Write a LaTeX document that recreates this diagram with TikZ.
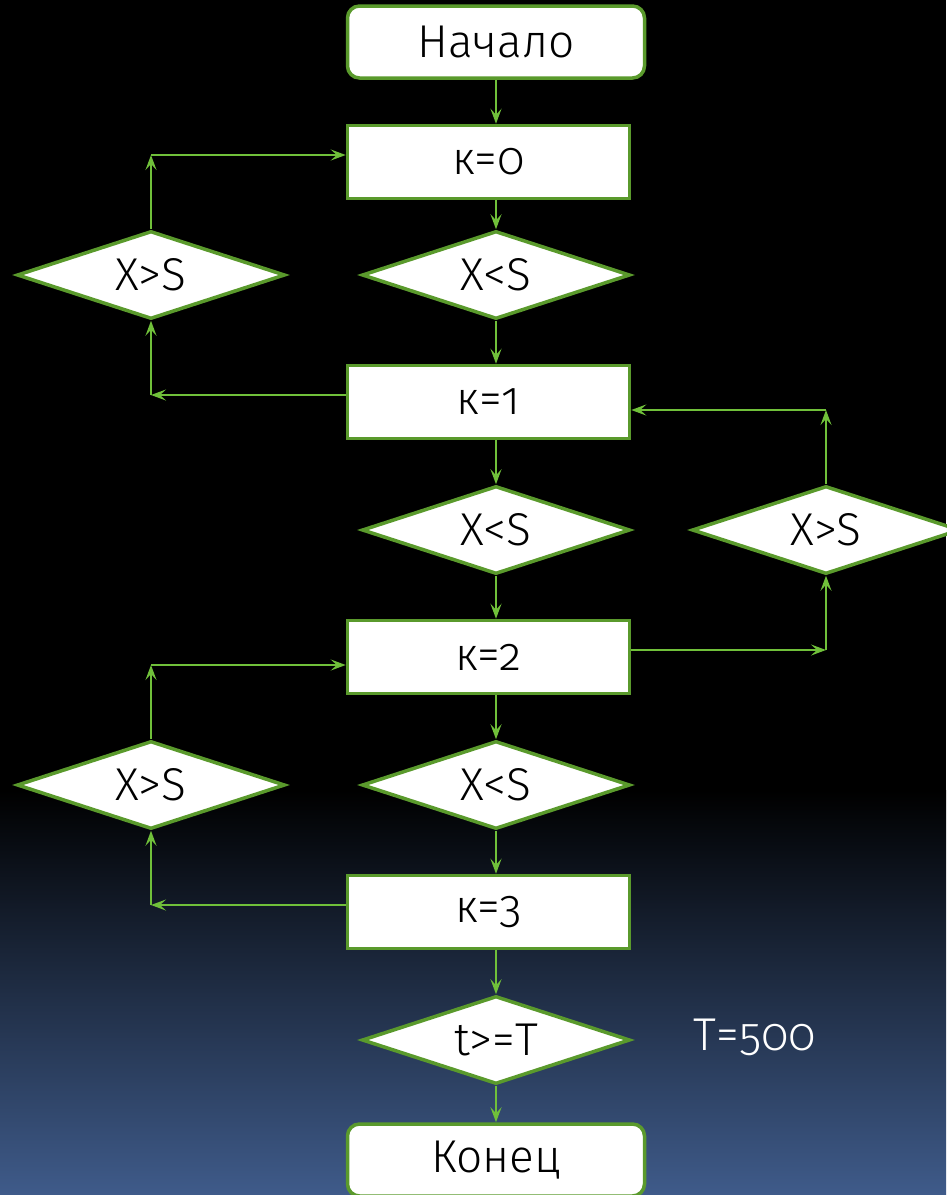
\documentclass[tikz,border=0pt]{standalone}
\usepackage{fontspec}
\setmainfont{Fira Sans Light}[Numbers=OldStyle]
\usetikzlibrary{arrows.meta,shapes.geometric}
\definecolor{edgegreen}{HTML}{5A9A2C}
\definecolor{linkgreen}{HTML}{70C03A}
\definecolor{bgblue}{HTML}{3F5B8A}
\tikzset{
  every node/.style={font=\fontsize{46}{52}\selectfont},
  termbox/.style={draw=edgegreen,line width=3.5pt,fill=white,rounded corners=12pt,
    minimum width=297pt,minimum height=72pt,inner sep=0pt},
  procbox/.style={draw=edgegreen,line width=3.5pt,fill=white,
    minimum width=282pt,minimum height=73pt,inner sep=0pt},
  testbox/.style={draw=edgegreen,line width=3.5pt,fill=white,diamond,aspect=3,
    minimum width=268pt,minimum height=88pt,inner sep=0pt},
  link/.style={draw=linkgreen,line width=2pt,
    -{Stealth[length=15pt,width=11pt,inset=6pt]}},
}
\begin{document}
\begin{tikzpicture}[x=1pt,y=-1pt]
  % background: black fading into blue towards the bottom
  \fill[black] (0,0) rectangle (946,1195);
  \shade[top color=black,bottom color=bgblue] (0,790) rectangle (946,1195);
  \useasboundingbox (0,0) rectangle (946,1195);

  % main column
  \node[termbox] (start) at (496,42) {Начало};
  \node[procbox] (k0) at (488.5,162) {к=0};
  \node[testbox] (d0) at (496,275) {X<S};
  \node[procbox] (k1) at (488.5,402) {к=1};
  \node[testbox] (d1) at (496,530) {X<S};
  \node[procbox] (k2) at (488.5,657) {к=2};
  \node[testbox] (d2) at (496,785) {X<S};
  \node[procbox] (k3) at (488.5,912) {к=3};
  \node[testbox] (dt) at (496,1040) {t>=T};
  \node[termbox] (stop) at (496,1160) {Конец};

  % side tests
  \node[testbox] (l0) at (151,275) {X>S};
  \node[testbox] (r1) at (826,530) {X>S};
  \node[testbox] (l2) at (151,785) {X>S};

  \node[text=white,anchor=center] (tval) at (755,1037) {T=500};

  % downward flow
  \draw[link] (start.south) -- (start.south |- k0.north);
  \draw[link] (d0.north |- k0.south) -- (d0.north);
  \draw[link] (d0.south) -- (d0.south |- k1.north);
  \draw[link] (d1.north |- k1.south) -- (d1.north);
  \draw[link] (d1.south) -- (d1.south |- k2.north);
  \draw[link] (d2.north |- k2.south) -- (d2.north);
  \draw[link] (d2.south) -- (d2.south |- k3.north);
  \draw[link] (dt.north |- k3.south) -- (dt.north);
  \draw[link] (dt.south) -- (stop.north);

  % corner points of the side loops
  \coordinate (a0) at (151,155);
  \coordinate (a1) at (151,395);
  \coordinate (b1) at (826,410);
  \coordinate (b2) at (826,650);
  \coordinate (c2) at (151,665);
  \coordinate (c3) at (151,905);

  % loop between k=0 and k=1
  \draw[link] (k1.west |- a1) -- (a1);
  \draw[link] (a1) -- (l0.south);
  \draw[link] (l0.north) -- (a0);
  \draw[link] (a0) -- (k0.west |- a0);

  % loop between k=1 and k=2
  \draw[link] (k2.east |- b2) -- (b2);
  \draw[link] (b2) -- (r1.south);
  \draw[link] (r1.north) -- (b1);
  \draw[link] (b1) -- (k1.east |- b1);

  % loop between k=2 and k=3
  \draw[link] (k3.west |- c3) -- (c3);
  \draw[link] (c3) -- (l2.south);
  \draw[link] (l2.north) -- (c2);
  \draw[link] (c2) -- (k2.west |- c2);
\end{tikzpicture}
\end{document}
